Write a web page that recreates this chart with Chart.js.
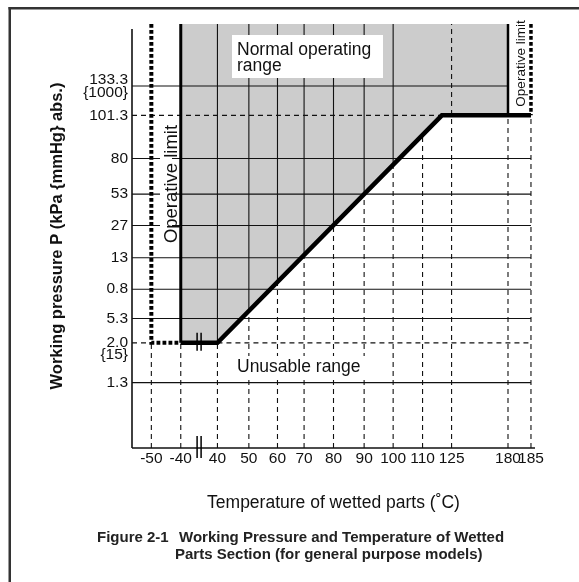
<!DOCTYPE html>
<html>
<head>
<meta charset="utf-8">
<script src="https://cdn.jsdelivr.net/npm/chart.js@4.4.1/dist/chart.umd.min.js"></script>
<style>
  html, body { margin: 0; padding: 0; background: #fff; }
  #wrap { width: 579px; height: 582px; position: relative; }
</style>
</head>
<body>
<div id="wrap"><canvas id="pt-chart"></canvas></div>
<script>
const tempTicks = [-50, -40, 40, 50, 60, 70, 80, 90, 100, 110, 125, 180, 185];
const pressureTicks = [1.3, 2.0, 5.3, 0.8, 13, 27, 53, 80, 101.3, 133.3];
const pressureLabels = ["1.3", "2.0", "5.3", "0.8", "13", "27", "53", "80", "101.3", "133.3"];
const mmHgLabels = { "2.0": "{15}", "133.3": "{1000}" };

// thick boundary of the normal operating range
const boundaryTemps = [-40, 40, 120, 185];
const boundaryPressures = [2.0, 2.0, 101.3, 101.3];
// limits
const lowLimitTemp = -50;
const highLimitTemp = 185;
const usableLowTemp = -40;
const usableHighTemp = 180;
// grid lines drawn solid inside the grey area
const solidGridTemps = [40, 50, 60, 70, 80, 90, 100];
const fullDashTemps = [125];

// the axes are broken / uneven: where each tick sits (% of axis length)
const tempSlots = [4.8, 12.1, 21.2, 29.0, 36.1, 42.7, 50.0, 57.6, 64.8, 72.1, 79.3, 93.3, 99.0];
const pressureSlots = [15.6, 25.1, 30.9, 37.9, 45.4, 53.1, 60.6, 69.1, 79.4, 86.4];
const TOP = 101.2; // upper edge of the drawing

const FONT = "'Liberation Sans', Arial, Helvetica, sans-serif";
const INK = "#111";
Chart.defaults.font.family = FONT;
Chart.defaults.color = INK;

function tx(t) {
  for (let i = 0; i < tempTicks.length - 1; i++) {
    const a = tempTicks[i], b = tempTicks[i + 1];
    if (t >= a && t <= b) {
      return tempSlots[i] + ((t - a) / (b - a)) * (tempSlots[i + 1] - tempSlots[i]);
    }
  }
  return t < tempTicks[0] ? tempSlots[0] : tempSlots[tempSlots.length - 1];
}
function py(p) {
  return pressureSlots[pressureTicks.indexOf(p)];
}
function boundaryAt(t) {
  const xs = boundaryTemps.map(tx), ys = boundaryPressures.map(py);
  const x = tx(t);
  if (x <= xs[0]) return ys[0];
  for (let i = 0; i < xs.length - 1; i++) {
    if (x >= xs[i] && x <= xs[i + 1]) {
      return ys[i] + ((x - xs[i]) / (xs[i + 1] - xs[i])) * (ys[i + 1] - ys[i]);
    }
  }
  return ys[ys.length - 1];
}

const SOLID = { borderWidth: 1.1, borderDash: [] };
const DASHED = { borderWidth: 1.1, borderDash: [5, 4] };
const DOTTED = [3.8, 2.2];

function seg(points, style, extra) {
  return Object.assign({
    data: points.map(([x, y]) => ({ x, y })),
    borderColor: INK,
    pointRadius: 0,
    fill: false,
    tension: 0,
    clip: false,
    order: 5,
  }, style, extra || {});
}

const datasets = [];

// grey normal operating range
datasets.push({
  data: [usableLowTemp, ...boundaryTemps.slice(1, 3), usableHighTemp].map((t, i) => ({
    x: tx(t),
    y: py(i === 3 ? boundaryPressures[3] : boundaryPressures[i]),
  })),
  borderWidth: 0,
  pointRadius: 0,
  backgroundColor: "#cccccc",
  fill: { value: TOP },
  clip: false,
  order: 10,
});

// vertical grid lines
tempTicks.forEach((t) => {
  const b = fullDashTemps.includes(t) ? TOP : boundaryAt(t);
  datasets.push(seg([[tx(t), 0], [tx(t), b]], DASHED));
  if (solidGridTemps.includes(t)) datasets.push(seg([[tx(t), b], [tx(t), TOP]], SOLID));
});

// horizontal grid lines
const pMin = boundaryPressures[0], pMax = boundaryPressures[boundaryPressures.length - 1];
pressureTicks.forEach((p) => {
  const y = py(p);
  if (p === pMin) {
    datasets.push(seg([[0, y], [tx(lowLimitTemp), y]], DASHED));
    datasets.push(seg([[tx(boundaryTemps[1]), y], [tx(highLimitTemp), y]], DASHED));
  } else if (p === pMax) {
    datasets.push(seg([[0, y], [tx(boundaryTemps[2]), y]], DASHED));
  } else if (p > pMax) {
    datasets.push(seg([[0, y], [tx(usableHighTemp), y]], SOLID));
  } else {
    datasets.push(seg([[0, y], [tx(highLimitTemp), y]], SOLID));
  }
});

// axes
datasets.push(seg([[0, 0], [100, 0]], { borderWidth: 1.6 }, { order: 4 }));
datasets.push(seg([[0, 0], [0, 100]], { borderWidth: 1.6 }, { order: 4 }));

// limits and boundary
const BLACK = { borderColor: "#000" };
datasets.push(seg([[tx(usableLowTemp), TOP], [tx(usableLowTemp), py(pMin)]], { borderWidth: 3 }, { order: 2, ...BLACK }));
datasets.push(seg([[tx(usableHighTemp), TOP], [tx(usableHighTemp), py(pMax)]], { borderWidth: 2.5 }, { order: 2, ...BLACK }));
datasets.push(seg(
  [[tx(lowLimitTemp), TOP], [tx(lowLimitTemp), py(pMin)], [tx(usableLowTemp), py(pMin)]],
  { borderWidth: 4, borderDash: DOTTED }, { order: 2, borderCapStyle: "butt", ...BLACK }));
datasets.push(seg(
  [[tx(highLimitTemp), TOP], [tx(highLimitTemp), py(pMax)]],
  { borderWidth: 3.5, borderDash: DOTTED }, { order: 2, borderCapStyle: "butt", ...BLACK }));
datasets.push(seg(
  boundaryTemps.map((t, i) => [tx(t), py(boundaryPressures[i])]),
  { borderWidth: 4.5 }, { order: 1, borderJoinStyle: "miter", ...BLACK }));

// y tick list: main pressure ticks plus the {15} note under 2.0
const yTicks = pressureTicks.map((p, i) => {
  const lab = pressureLabels[i];
  return { value: pressureSlots[i], label: lab === "133.3" ? [lab, mmHgLabels[lab]] : lab };
});
yTicks.push({ value: py(2.0) - 2.9, label: mmHgLabels["2.0"] });

const decorations = {
  id: "decorations",
  afterDatasetsDraw(chart) {
    const { ctx, scales: { x, y } } = chart;
    ctx.save();
    ctx.fillStyle = INK;
    ctx.strokeStyle = "#000";

    // axis break marks
    const bx = x.getPixelForValue((tx(-40) + tx(40)) / 2);
    ctx.lineWidth = 1.5;
    [[y.getPixelForValue(0), -12, 10], [y.getPixelForValue(py(pMin)), -10, 8]].forEach(([yy, a, b]) => {
      [-2, 2].forEach((d) => {
        ctx.beginPath();
        ctx.moveTo(bx + d, yy + a);
        ctx.lineTo(bx + d, yy + b);
        ctx.stroke();
      });
    });

    // labels inside the plot
    ctx.fillStyle = "#fff";
    ctx.fillRect(232, 35, 151, 43);
    ctx.fillRect(233, 356, 134, 21);
    ctx.fillRect(160, 122, 12, 124);
    ctx.fillStyle = INK;
    ctx.font = "17.5px " + FONT;
    ctx.textAlign = "left";
    ctx.textBaseline = "alphabetic";
    ctx.fillText("Normal operating", 237, 55);
    ctx.fillText("range", 237, 71);
    ctx.fillText("Unusable range", 237, 372);

    ctx.textAlign = "center";
    ctx.save();
    ctx.translate(176.5, 184);
    ctx.rotate(-Math.PI / 2);
    ctx.font = "18.5px " + FONT;
    ctx.fillText("Operative limit", 0, 0);
    ctx.restore();
    ctx.save();
    ctx.translate(525, 63.5);
    ctx.rotate(-Math.PI / 2);
    ctx.font = "13.5px " + FONT;
    ctx.fillText("Operative limit", 0, 0);
    ctx.restore();
    ctx.restore();
  },
  afterDraw(chart) {
    const { ctx } = chart;
    ctx.save();
    ctx.fillStyle = "#333";
    ctx.fillRect(8.5, 7, 579, 2.5);
    ctx.fillRect(8.5, 7, 2.5, 582);
    ctx.fillStyle = "#222";
    ctx.font = "bold 15px " + FONT;
    ctx.textAlign = "left";
    ctx.fillText("Figure 2-1", 97, 542);
    ctx.fillText("Working Pressure and Temperature of Wetted", 179, 542);
    ctx.fillText("Parts Section (for general purpose models)", 175, 559);
    ctx.restore();
  },
};

new Chart(document.getElementById("pt-chart"), {
  type: "line",
  data: { datasets },
  plugins: [decorations],
  options: {
    responsive: true,
    maintainAspectRatio: false,
    animation: false,
    events: [],
    layout: { padding: { left: 0, right: 44, top: 24, bottom: 64 } },
    plugins: { legend: { display: false }, tooltip: { enabled: false } },
    scales: {
      x: {
        type: "linear",
        min: 0,
        max: 100,
        grid: { display: false, drawTicks: false },
        border: { display: false },
        afterBuildTicks: (s) => { s.ticks = tempSlots.map((v) => ({ value: v })); },
        afterFit: (s) => { s.height = 70; },
        ticks: {
          autoSkip: false,
          maxRotation: 0,
          minRotation: 0,
          padding: 1,
          color: INK,
          font: { size: 15.5 },
          callback: (v, i) => String(tempTicks[i]),
        },
        title: {
          display: true,
          text: "Temperature of wetted parts (˚C)",
          color: INK,
          font: { size: 17.5 },
          padding: { top: 0, bottom: 4.3 },
        },
      },
      y: {
        type: "linear",
        min: 0,
        max: TOP,
        grid: { display: false, drawTicks: false },
        border: { display: false },
        afterBuildTicks: (s) => { s.ticks = yTicks.map((t) => ({ value: t.value })); },
        afterFit: (s) => { s.width = 132; },
        ticks: {
          autoSkip: false,
          padding: 4,
          color: INK,
          font: { size: 15.5, lineHeight: 0.82 },
          callback: (v, i) => yTicks[i].label,
        },
        title: {
          display: true,
          text: "Working pressure P (kPa {mmHg} abs.)",
          color: INK,
          font: { size: 16.5, weight: "bold" },
          padding: { top: 48, bottom: 0 },
        },
      },
    },
  },
});
</script>
</body>
</html>
